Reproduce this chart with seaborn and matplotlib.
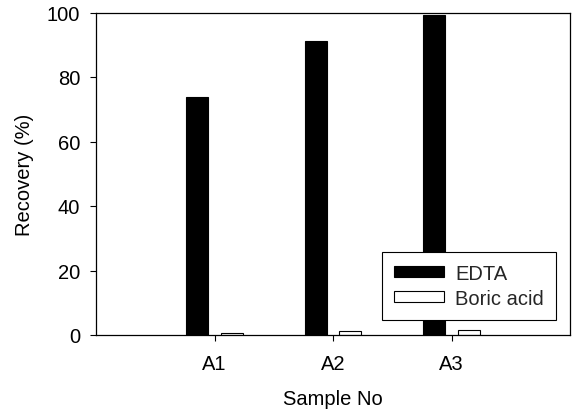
import matplotlib
matplotlib.use("Agg")
import matplotlib.pyplot as plt
import seaborn as sns
import pandas as pd

# Recovery of each sample with the two extractants
samples = ["A1", "A2", "A3"]
edta = [73.7, 91.1, 99.2]
boric_acid = [0.7, 1.2, 1.7]
series_names = ["EDTA", "Boric acid"]

df = pd.DataFrame({
    "Sample No": samples * 2,
    "Recovery (%)": edta + boric_acid,
    "Method": [series_names[0]] * 3 + [series_names[1]] * 3,
})

sns.set_theme(style="ticks")
plt.rcParams["font.family"] = ["Liberation Sans", "DejaVu Sans"]

FS = 14.5

fig = plt.figure(figsize=(5.72, 4.10), dpi=100)
ax = fig.add_axes([96 / 572, 1 - 336 / 410, (570 - 96) / 572, (336 - 13.5) / 410])

sns.barplot(
    data=df, x="Sample No", y="Recovery (%)", hue="Method",
    palette={"EDTA": "black", "Boric acid": "white"},
    width=0.59, gap=0.37, edgecolor="black", linewidth=0.8,
    ax=ax, legend=True,
)

ax.set_xlim(-1, 3)
ax.set_ylim(0, 100)
ax.set_yticks([0, 20, 40, 60, 80, 100])
ax.tick_params(axis="both", labelsize=FS, direction="out", length=4.5,
               width=0.8, color="black", labelcolor="black")
ax.tick_params(axis="y", pad=7)
ax.tick_params(axis="x", pad=9.5)
ax.set_xlabel("Sample No", fontsize=FS, color="black", labelpad=11.5)
ax.set_ylabel("Recovery (%)", fontsize=FS, color="black", labelpad=9)
for s in ax.spines.values():
    s.set_visible(True)
    s.set_color("black")
    s.set_linewidth(0.9)

leg = ax.legend(
    loc="lower right", bbox_to_anchor=(0.9705, 0.0465), borderaxespad=0,
    fontsize=FS, frameon=True, fancybox=False, edgecolor="black",
    framealpha=1, handlelength=2.5, handleheight=0.45, handletextpad=0.55,
    borderpad=0.6, labelspacing=0.3, title=None,
)
leg.get_frame().set_linewidth(0.8)

fig.savefig("out.png", dpi=100)
